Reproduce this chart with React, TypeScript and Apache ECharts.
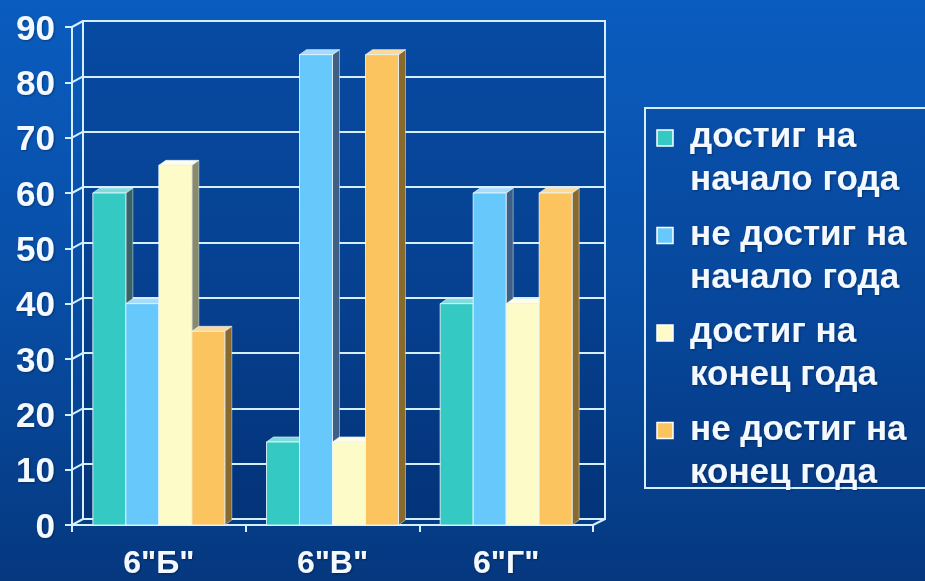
import React, { useEffect, useRef } from "react";
import * as echarts from "echarts";

const categories = ['6"Б"', '6"В"', '6"Г"'];
const seriesNames = [
  "достиг на\nначало года",
  "не достиг на\nначало года",
  "достиг на\nконец года",
  "не достиг на\nконец года",
];
const reachedStart = [60, 15, 40];
const notReachedStart = [40, 85, 60];
const reachedEnd = [65, 15, 40];
const notReachedEnd = [35, 85, 60];
const yTicks = [0, 10, 20, 30, 40, 50, 60, 70, 80, 90];

const seriesValues = [reachedStart, notReachedStart, reachedEnd, notReachedEnd];
const frontColors = ["#35c9c4", "#66c8fb", "#fdfbc8", "#fbc45e"];
const topColors = ["#7fdcd8", "#a6dcfb", "#fffde6", "#fdd994"];
const sideColors = ["#3a6266", "#3f5f86", "#8a8a6a", "#8a6a2c"];

const LINE = "#d6efff";
const DX = 7;
const DY = 5;

export default function App() {
  const ref = useRef<HTMLDivElement>(null);
  useEffect(() => {
    const chart = echarts.init(ref.current!, null, { renderer: "svg" });

    const barSeries = seriesValues.map((vals, i) => ({
      type: "custom",
      name: seriesNames[i],
      xAxisIndex: 1,
      yAxisIndex: 1,
      z: 5,
      data: vals.map((v, k) => [k, v]),
      encode: { x: 0, y: 1 },
      renderItem: (params: any, api: any) => {
        const cat = api.value(0);
        const v = api.value(1);
        const base = api.coord([cat, 0]);
        const top = api.coord([cat, v]);
        const band = api.size([1, 0])[0];
        const bw = band * 0.19;
        const x0 = base[0] - 2 * bw + i * bw;
        const x1 = x0 + bw;
        const yT = top[1];
        const yB = base[1];
        return {
          type: "group",
          children: [
            {
              type: "polygon",
              shape: { points: [[x1, yT], [x1 + DX, yT - DY], [x1 + DX, yB - DY], [x1, yB]] },
              style: { fill: sideColors[i], stroke: "rgba(220,240,255,0.5)", lineWidth: 1 },
            },
            {
              type: "polygon",
              shape: { points: [[x0, yT], [x0 + DX, yT - DY], [x1 + DX, yT - DY], [x1, yT]] },
              style: { fill: topColors[i], stroke: "rgba(220,240,255,0.7)", lineWidth: 1 },
            },
            {
              type: "rect",
              shape: { x: x0, y: yT, width: bw, height: yB - yT },
              style: { fill: frontColors[i], stroke: "rgba(235,248,255,0.85)", lineWidth: 1 },
            },
          ],
        };
      },
    }));

    const wallSeries = {
      type: "custom",
      xAxisIndex: 1,
      yAxisIndex: 1,
      z: 3,
      silent: true,
      data: yTicks.map((t) => [0, t]),
      encode: { x: 0, y: 1 },
      renderItem: (params: any, api: any) => {
        const cs = params.coordSys;
        const y = api.coord([0, api.value(1)])[1];
        const children: any[] = [
          {
            type: "line",
            shape: { x1: cs.x, y1: y, x2: cs.x + 11, y2: y - 6 },
            style: { stroke: LINE, lineWidth: 2 },
          },
        ];
        if (api.value(1) === 0) {
          children.push({
            type: "line",
            shape: { x1: cs.x + cs.width, y1: y, x2: cs.x + cs.width + 12, y2: y - 6 },
            style: { stroke: LINE, lineWidth: 2 },
          });
        }
        return { type: "group", children };
      },
    };

    const legendChildren: any[] = [
      {
        type: "rect",
        shape: { x: 645, y: 108, width: 300, height: 380 },
        style: { fill: "rgba(5,40,110,0.15)", stroke: LINE, lineWidth: 2 },
      },
    ];
    seriesNames.forEach((name, i) => {
      const top = 113 + i * 97.5;
      legendChildren.push({
        type: "rect",
        shape: { x: 657, y: top + 17, width: 16, height: 16 },
        style: { fill: frontColors[i], stroke: "#ffffff", lineWidth: 1.5 },
      });
      legendChildren.push({
        type: "text",
        x: 690,
        y: top,
        style: {
          text: name,
          fill: "#f4f9ff",
          font: "bold 35px 'Liberation Sans', Arial, sans-serif",
          lineHeight: 43,
          verticalAlign: "top",
          textShadowColor: "rgba(0,0,0,0.35)",
          textShadowBlur: 2,
          textShadowOffsetX: 1,
          textShadowOffsetY: 1,
        },
      });
    });

    const labelStyle = {
      color: "#f4f9ff",
      fontWeight: "bold",
      fontFamily: "'Liberation Sans', Arial, sans-serif",
      textShadowColor: "rgba(0,0,0,0.35)",
      textShadowBlur: 2,
      textShadowOffsetX: 1,
      textShadowOffsetY: 1,
    };

    chart.setOption({
      animation: false,
      backgroundColor: {
        type: "linear",
        x: 0,
        y: 0,
        x2: 0,
        y2: 1,
        colorStops: [
          { offset: 0, color: "#0a5cbf" },
          { offset: 0.5, color: "#084ea6" },
          { offset: 1, color: "#05387f" },
        ],
      },
      grid: [
        {
          left: 83,
          top: 21,
          width: 522,
          height: 498,
          show: true,
          borderColor: LINE,
          borderWidth: 2,
          backgroundColor: "rgba(0,20,70,0.22)",
        },
        { left: 72, top: 27, width: 521, height: 498 },
      ],
      xAxis: [
        {
          type: "category",
          gridIndex: 0,
          data: categories,
          axisLine: { show: false },
          axisTick: { show: false },
          axisLabel: { show: false },
        },
        {
          type: "category",
          gridIndex: 1,
          data: categories,
          axisLine: { show: true, lineStyle: { color: LINE, width: 2 } },
          axisTick: { show: true, length: 7, lineStyle: { color: LINE, width: 2 } },
          axisLabel: { ...labelStyle, fontSize: 32, margin: 21 },
        },
      ],
      yAxis: [
        {
          type: "value",
          gridIndex: 0,
          min: 0,
          max: 90,
          interval: 10,
          axisLine: { show: false },
          axisTick: { show: false },
          axisLabel: { show: false },
          splitLine: { show: true, lineStyle: { color: LINE, width: 2 } },
        },
        {
          type: "value",
          gridIndex: 1,
          min: 0,
          max: 90,
          interval: 10,
          axisLine: { show: true, lineStyle: { color: LINE, width: 2 } },
          axisTick: { show: true, length: 7, lineStyle: { color: LINE, width: 2 } },
          axisLabel: { ...labelStyle, fontSize: 35, margin: 17 },
          splitLine: { show: false },
        },
      ],
      graphic: [{ type: "group", children: legendChildren }],
      series: [wallSeries, ...barSeries],
    });

    return () => chart.dispose();
  }, []);

  return (
    <div
      ref={ref}
      style={{ position: "fixed", left: 0, top: 0, width: 925, height: 581 }}
    />
  );
}
